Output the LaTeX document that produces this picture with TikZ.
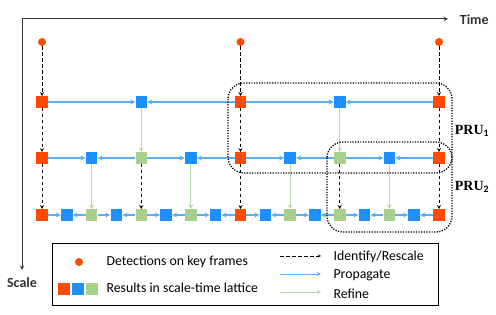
\documentclass[tikz,border=0pt]{standalone}
\usepackage{fontspec}
\setmainfont{Carlito}
\newfontfamily\prufont{Liberation Serif}
\usetikzlibrary{arrows}
\definecolor{keyred}{HTML}{FF4A00}
\definecolor{propblue}{HTML}{1E8FFF}
\definecolor{refgreen}{HTML}{A8D08D}
\definecolor{propline}{HTML}{5AAEF5}
\definecolor{refline}{HTML}{B9D9A9}
\tikzstyle{cell} = [
    rectangle,
    minimum size=11.5pt,
    inner sep=0pt
]
\tikzstyle{keycell} = [cell, fill=keyred]
\tikzstyle{bluecell} = [cell, fill=propblue]
\tikzstyle{greencell} = [cell, fill=refgreen]
\tikzstyle{detection} = [
    circle,
    fill=keyred,
    minimum size=8pt,
    inner sep=0pt
]
\tikzstyle{identify} = [thick,dash pattern=on 3.5pt off 2.5pt,->,>=stealth,black]
\tikzstyle{propagate} = [line width=1.3pt,->,>=stealth,propline]
\tikzstyle{refine} = [line width=1.1pt,->,>=stealth,refline]
\tikzstyle{axis} = [line width=1pt,->,>=stealth,black!80]
\tikzstyle{unit} = [line width=1.3pt,dash pattern=on 1.2pt off 1.4pt,rounded corners=16pt]
\tikzstyle{prulabel} = [font=\prufont\bfseries\fontsize{14}{14}\selectfont]
\tikzstyle{axislabel} = [font=\bfseries\fontsize{14}{14}\selectfont]
\tikzstyle{legendtext} = [anchor=west,font=\fontsize{13.8}{14}\selectfont]

\begin{document}
\begin{tikzpicture}[x=1pt,y=-1pt]
\useasboundingbox (0,0) rectangle (496,315);

% axes
\coordinate (origin) at (22,19);
\draw [axis] (origin) -- (448,19) node (time) [axislabel,anchor=west,xshift=8pt,yshift=-1pt] {Time};
\draw [axis] (origin) -- (22,270) node (scale) [axislabel,anchor=north,yshift=-4pt] {Scale};

% key frame detections
\foreach \k in {0,8,16}
    \node (det-\k) [detection] at (42+\k*24.8125,42) {};

% level 1
\foreach \k in {0,8,16}
    \node (n1-\k) [keycell] at (42+\k*24.8125,102) {};
\foreach \k in {4,12}
    \node (n1-\k) [bluecell] at (42+\k*24.8125,102) {};

% level 2
\foreach \k in {0,8,16}
    \node (n2-\k) [keycell] at (42+\k*24.8125,158) {};
\foreach \k in {2,6,10,14}
    \node (n2-\k) [bluecell] at (42+\k*24.8125,158) {};
\foreach \k in {4,12}
    \node (n2-\k) [greencell] at (42+\k*24.8125,158) {};

% level 3
\foreach \k in {0,8,16}
    \node (n3-\k) [keycell] at (42+\k*24.8125,215) {};
\foreach \k in {1,3,...,15}
    \node (n3-\k) [bluecell] at (42+\k*24.8125,215) {};
\foreach \k in {2,4,6,10,12,14}
    \node (n3-\k) [greencell] at (42+\k*24.8125,215) {};

% propagate along each level
\foreach \k [evaluate=\k as \a using int(\k-4), evaluate=\k as \b using int(\k+4)] in {4,12} {
    \draw [propagate] (n1-\a) -- (n1-\k);
    \draw [propagate] (n1-\b) -- (n1-\k);
}
\foreach \k [evaluate=\k as \a using int(\k-2), evaluate=\k as \b using int(\k+2)] in {2,6,10,14} {
    \draw [propagate] (n2-\a) -- (n2-\k);
    \draw [propagate] (n2-\b) -- (n2-\k);
}
\foreach \k [evaluate=\k as \a using int(\k-1), evaluate=\k as \b using int(\k+1)] in {1,3,...,15} {
    \draw [propagate] (n3-\a) -- (n3-\k);
    \draw [propagate] (n3-\b) -- (n3-\k);
}

% identify / rescale
\foreach \k in {0,8,16} {
    \draw [identify] (det-\k) -- (n1-\k);
    \draw [identify] (n1-\k) -- (n2-\k);
    \draw [identify] (n2-\k) -- (n3-\k);
}
\foreach \k in {4,12}
    \draw [identify] (n2-\k) -- (n3-\k);

% refine
\foreach \k in {4,12}
    \draw [refine] (n1-\k) -- (n2-\k);
\foreach \k in {2,6,10,14}
    \draw [refine] (n2-\k) -- (n3-\k);

% units
\draw [unit] (228,83) rectangle (452,173);
\draw [unit] (327,142) rectangle (452,232);
\node (pru1) [prulabel] at (472,131) {PRU$_{\mathbf{1}}$};
\node (pru2) [prulabel] at (472,187) {PRU$_{\mathbf{2}}$};

% legend
\node (legend) [draw=black,thick,minimum width=386pt,minimum height=62pt] at (245,274) {};
\node (ldet) [detection] at (79,262) {};
\node (ldettext) [legendtext] at (103,262) {Detections on key frames};
\node (lred) [keycell] at (64,289) {};
\node (lblue) [bluecell] at (78,289) {};
\node (lgreen) [greencell] at (92,289) {};
\node (lcelltext) [legendtext] at (103,288) {Results in scale-time lattice};
\coordinate (lid-a) at (280,256);
\coordinate (lid-b) at (321,256);
\coordinate (lprop-a) at (280,274);
\coordinate (lprop-b) at (321,274);
\coordinate (lref-a) at (280,292);
\coordinate (lref-b) at (321,292);
\draw [identify,thin] (lid-a) -- (lid-b);
\draw [propagate,line width=0.8pt] (lprop-a) -- (lprop-b);
\draw [refine,line width=0.8pt] (lref-a) -- (lref-b);
\node (lidtext) [legendtext] at (330,257) {Identify/Rescale};
\node (lproptext) [legendtext] at (330,275) {Propagate};
\node (lreftext) [legendtext] at (330,294) {Refine};

\end{tikzpicture}
\end{document}
